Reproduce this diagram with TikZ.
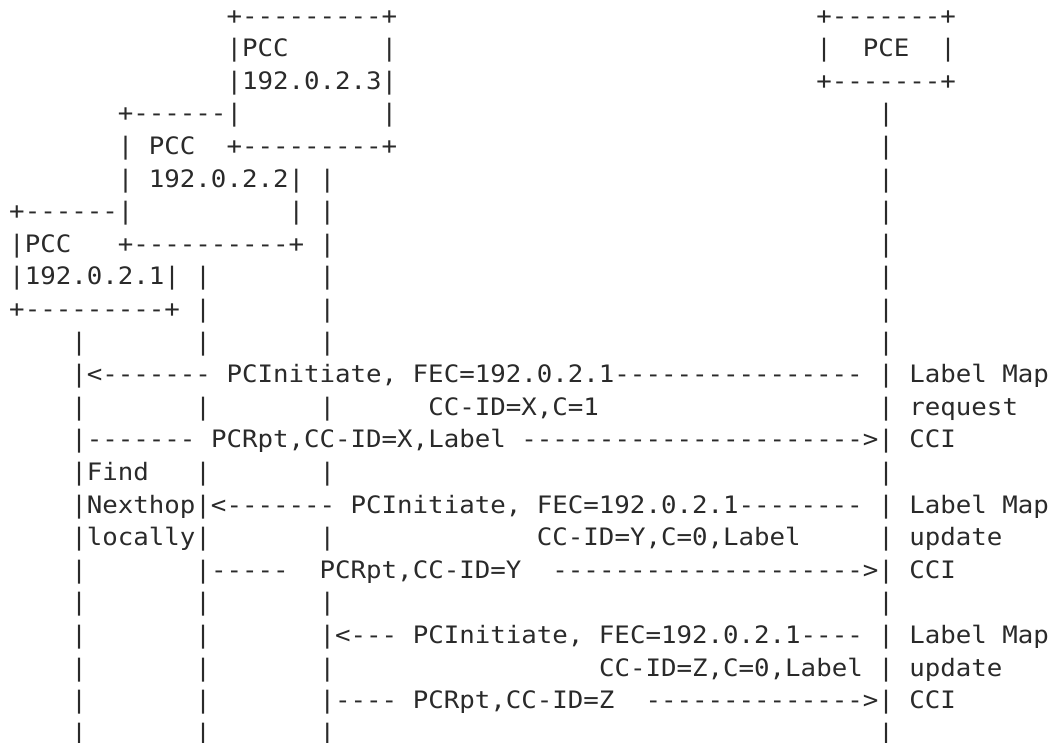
\documentclass[tikz,border=0pt]{standalone}
\usepackage{fontspec}
\setmonofont[FakeStretch=1.0741]{DejaVu Sans Mono}
\definecolor{ink}{HTML}{2A2A2A}
\ExplSyntaxOn
\NewDocumentCommand\dsh{m}{\prg_replicate:nn{#1}{-}}
\ExplSyntaxOff
\tikzset{asc/.style={anchor=base west, inner sep=0pt, outer sep=0pt,
  font=\ttfamily\fontsize{24pt}{24pt}\selectfont\frenchspacing, text=ink}}
% name, row, column, text
\newcommand\ascfrag[4]{\node[asc] (#1) at ({9.24pt+15.52pt*#3},{-24.1pt-32.6pt*(#2-1)}) {#4};}
\begin{document}
\begin{tikzpicture}
\fill[white] (0,0) rectangle (1058pt,-742pt);
\useasboundingbox (0,0) rectangle (1058pt,-742pt);
% PCC 192.0.2.3 box and PCE box
\ascfrag{a1}{1}{14}{+\dsh{9}+}
\ascfrag{e1}{1}{52}{+\dsh{7}+}
\ascfrag{a2}{2}{14}{|PCC}
\ascfrag{a2r}{2}{24}{|}
\ascfrag{e2}{2}{52}{|}
\ascfrag{e2t}{2}{55}{PCE}
\ascfrag{e2r}{2}{60}{|}
\ascfrag{a3}{3}{14}{|192.0.2.3|}
\ascfrag{e3}{3}{52}{+\dsh{7}+}
% PCC 192.0.2.2 box
\ascfrag{b4}{4}{7}{+\dsh{6}|}
\ascfrag{a4r}{4}{24}{|}
\ascfrag{p4}{4}{56}{|}
\ascfrag{b5}{5}{7}{| PCC}
\ascfrag{a5}{5}{14}{+\dsh{9}+}
\ascfrag{p5}{5}{56}{|}
\ascfrag{b6}{6}{7}{| 192.0.2.2| |}
\ascfrag{p6}{6}{56}{|}
% PCC 192.0.2.1 box
\ascfrag{c7}{7}{0}{+\dsh{6}|}
\ascfrag{b7}{7}{18}{| |}
\ascfrag{p7}{7}{56}{|}
\ascfrag{c8}{8}{0}{|PCC}
\ascfrag{b8}{8}{7}{+\dsh{10}+ |}
\ascfrag{p8}{8}{56}{|}
\ascfrag{c9}{9}{0}{|192.0.2.1| |}
\ascfrag{l9}{9}{20}{|}
\ascfrag{p9}{9}{56}{|}
\ascfrag{c10}{10}{0}{+\dsh{9}+ |}
\ascfrag{l10}{10}{20}{|}
\ascfrag{p10}{10}{56}{|}
\ascfrag{x11}{11}{4}{|}
\ascfrag{y11}{11}{12}{|}
\ascfrag{z11}{11}{20}{|}
\ascfrag{p11}{11}{56}{|}
% message 1
\ascfrag{m12}{12}{4}{|<\dsh{7} PCInitiate, FEC=192.0.2.1\dsh{16} | Label Map}
\ascfrag{x13}{13}{4}{|}
\ascfrag{y13}{13}{12}{|}
\ascfrag{z13}{13}{20}{|}
\ascfrag{m13}{13}{27}{CC-ID=X,C=1}
\ascfrag{p13}{13}{56}{| request}
\ascfrag{m14a}{14}{4}{|\dsh{7}}
\ascfrag{m14b}{14}{13}{PCRpt,CC-ID=X,Label}
\ascfrag{m14c}{14}{33}{\dsh{22}>| CCI}
\ascfrag{x15}{15}{4}{|Find}
\ascfrag{y15}{15}{12}{|}
\ascfrag{z15}{15}{20}{|}
\ascfrag{p15}{15}{56}{|}
% message 2
\ascfrag{m16}{16}{4}{|Nexthop|<\dsh{7} PCInitiate, FEC=192.0.2.1\dsh{8} | Label Map}
\ascfrag{x17}{17}{4}{|locally|}
\ascfrag{z17}{17}{20}{|}
\ascfrag{m17}{17}{34}{CC-ID=Y,C=0,Label}
\ascfrag{p17}{17}{56}{| update}
\ascfrag{x18}{18}{4}{|}
\ascfrag{m18a}{18}{12}{|\dsh{5}}
\ascfrag{m18b}{18}{20}{PCRpt,CC-ID=Y}
\ascfrag{m18c}{18}{35}{\dsh{20}>| CCI}
\ascfrag{x19}{19}{4}{|}
\ascfrag{y19}{19}{12}{|}
\ascfrag{z19}{19}{20}{|}
\ascfrag{p19}{19}{56}{|}
% message 3
\ascfrag{x20}{20}{4}{|}
\ascfrag{y20}{20}{12}{|}
\ascfrag{m20}{20}{20}{|<\dsh{3} PCInitiate, FEC=192.0.2.1\dsh{4} | Label Map}
\ascfrag{x21}{21}{4}{|}
\ascfrag{y21}{21}{12}{|}
\ascfrag{z21}{21}{20}{|}
\ascfrag{m21}{21}{38}{CC-ID=Z,C=0,Label | update}
\ascfrag{x22}{22}{4}{|}
\ascfrag{y22}{22}{12}{|}
\ascfrag{m22a}{22}{20}{|\dsh{4} PCRpt,CC-ID=Z}
\ascfrag{m22b}{22}{41}{\dsh{14}>| CCI}
\ascfrag{x23}{23}{4}{|}
\ascfrag{y23}{23}{12}{|}
\ascfrag{z23}{23}{20}{|}
\ascfrag{p23}{23}{56}{|}
\end{tikzpicture}
\end{document}
